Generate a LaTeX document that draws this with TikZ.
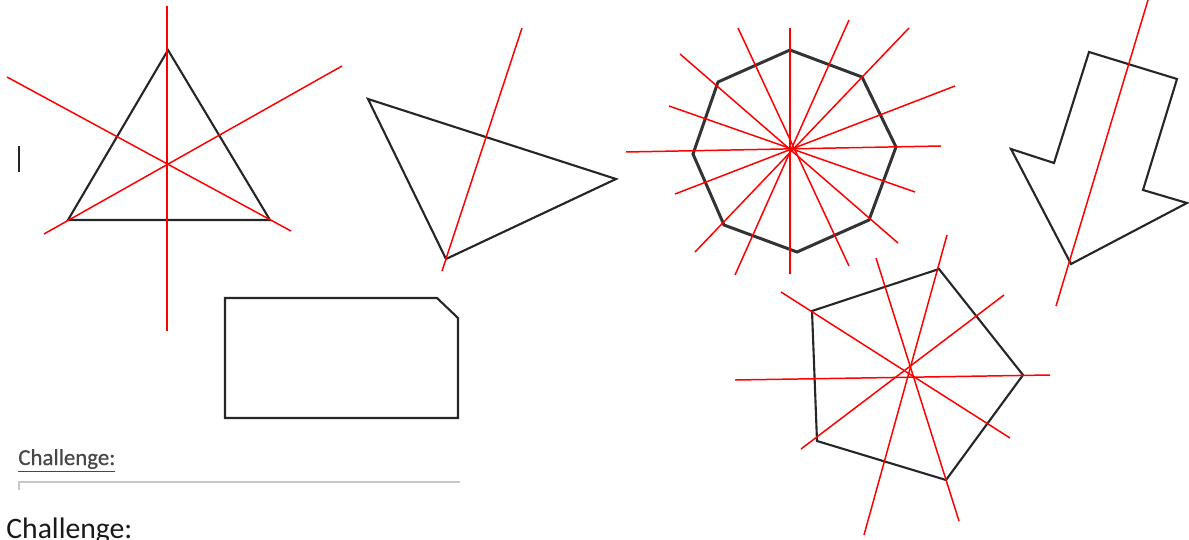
\documentclass[tikz,border=0pt]{standalone}
\usepackage{fontspec}
\setmainfont{Carlito}
\newfontfamily\heavych[FakeBold=0.6]{Carlito}
\begin{document}
\begin{tikzpicture}[x=0.02cm,y=-0.02cm,
  sym/.style={red, line width=0.85pt},
  shapeline/.style={black!85, line width=1.2pt, line join=miter},
  thickshape/.style={black!80, line width=1.7pt, line join=miter}]
\useasboundingbox (0,0) rectangle (1189,540);
% cursor
\draw[black!85, line width=1.1pt] (19,146) -- (19,172);
% equilateral triangle
\draw[shapeline] (168,50) -- (270,220) -- (68,220) -- cycle;
\draw[sym] (167,6) -- (167,331);
\draw[sym] (7,77) -- (291,231);
\draw[sym] (44,234) -- (342,66);
% isosceles triangle
\draw[shapeline] (368,99) -- (616,179) -- (446,259) -- cycle;
\draw[sym] (522,28) -- (442,271);
% rectangle with cut corner
\draw[shapeline] (225,298) -- (437,298) -- (458,318) -- (458,418) -- (225,418) -- cycle;
% octagon
\draw[thickshape] (790,50) -- (862,77) -- (896,147) -- (869,220) -- (797,252) -- (724,225) -- (693,154) -- (718,82) -- cycle;
\draw[sym] (790,28) -- (790,274);
\draw[sym] (626,152) -- (941,146);
\draw[sym] (738,28) -- (849,266);
\draw[sym] (849,20) -- (735,275);
\draw[sym] (680,54) -- (898,243);
\draw[sym] (909,28) -- (695,252);
\draw[sym] (669,106) -- (915,192);
\draw[sym] (955,86) -- (675,194);
% pentagon
\draw[shapeline] (939,269) -- (1023,375) -- (946,480) -- (817,441) -- (812,311) -- cycle;
\draw[sym] (735,380) -- (1050,375);
\draw[sym] (781,292) -- (1010,438);
\draw[sym] (1004,295) -- (801,449);
\draw[sym] (876,258) -- (959,521);
\draw[sym] (947,235) -- (864,535);
% arrow
\draw[shapeline] (1089,52) -- (1177,79) -- (1143,190) -- (1187,203) -- (1071,264) -- (1011,149) -- (1054,163) -- cycle;
\draw[sym] (1148,0) -- (1056,306);
% texts
\node[anchor=base west, inner sep=0pt, text=black!72, font=\heavych\fontsize{13}{15}\selectfont] (ch1) at (18,465) {\underline{Challenge:}};
\draw[black!22, line width=1.1pt] (19,490) -- (19,482) -- (460,482);
\node[anchor=base west, inner sep=0pt, text=black!90, font=\fontsize{16.9}{20}\selectfont] (ch2) at (6,538) {Challenge:};
\end{tikzpicture}
\end{document}
